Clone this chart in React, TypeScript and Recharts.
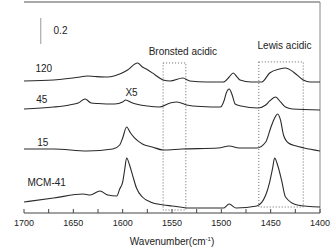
import * as React from "react";
import {LineChart, Line, XAxis, YAxis, ReferenceArea, ReferenceLine, ReferenceDot} from 'recharts';

// spectra: [wavenumber, intensity a.u.]
const mcm41 = [
    [1700, 0.085], [1670, 0.115], [1640, 0.146], [1633, 0.138], [1623, 0.169], [1615, 0.138],
    [1606, 0.131], [1603, 0.185], [1600, 0.238], [1598, 0.331], [1596, 0.423], [1593, 0.369],
    [1590, 0.292], [1586, 0.192], [1580, 0.123], [1572, 0.085], [1559, 0.062], [1550, 0.054],
    [1532, 0.038], [1498, 0.038], [1492, 0.069], [1485, 0.038], [1464, 0.054], [1455, 0.138],
    [1451, 0.238], [1448, 0.346], [1446, 0.423], [1443, 0.369], [1439, 0.254], [1435, 0.123],
    [1423, 0.062], [1400, 0.046],
];
const s15 = [
    [1700, 0.492], [1670, 0.492], [1636, 0.477], [1610, 0.492], [1603, 0.523], [1600, 0.577],
    [1596, 0.662], [1592, 0.615], [1588, 0.577], [1580, 0.531], [1570, 0.508], [1559, 0.485],
    [1540, 0.492], [1503, 0.5], [1492, 0.515], [1482, 0.5], [1464, 0.5], [1455, 0.546],
    [1450, 0.654], [1446, 0.731], [1443, 0.762], [1440, 0.715], [1437, 0.6], [1432, 0.538],
    [1424, 0.515], [1416, 0.5], [1400, 0.477],
];
const s45 = [
    [1700, 0.8], [1670, 0.815], [1654, 0.831], [1645, 0.846], [1638, 0.877], [1632, 0.846],
    [1625, 0.842], [1608, 0.838], [1600, 0.854], [1597, 0.869], [1590, 0.846], [1575, 0.823],
    [1563, 0.815], [1552, 0.846], [1545, 0.854], [1535, 0.831], [1520, 0.819], [1501, 0.815],
    [1497, 0.869], [1495, 0.923], [1492, 0.954], [1489, 0.908], [1486, 0.838], [1480, 0.823],
    [1463, 0.808], [1455, 0.831], [1451, 0.862], [1445, 0.892], [1440, 0.854], [1435, 0.815],
    [1428, 0.8], [1400, 0.792],
];
const s120 = [
    [1700, 1.015], [1670, 1.023], [1643, 1.046], [1636, 1.054], [1628, 1.05], [1615, 1.046],
    [1603, 1.069], [1595, 1.1], [1585, 1.154], [1580, 1.123], [1576, 1.108], [1567, 1.062],
    [1559, 1.023], [1552, 1.015], [1539, 1.038], [1532, 1.015], [1515, 1.008], [1498, 1.008],
    [1492, 1.046], [1488, 1.077], [1484, 1.046], [1481, 1.023], [1470, 1.008], [1459, 1.008],
    [1451, 1.077], [1441, 1.108], [1435, 1.115], [1427, 1.085], [1417, 1.023], [1410, 1.008],
    [1400, 1.008],
];

const xTicks = [1700, 1675, 1650, 1625, 1600, 1575, 1550, 1525, 1500, 1475, 1450, 1425, 1400];

// curve name labels: [text, wavenumber, intensity]
const curveLabels: [string, number, number][] = [
    ['0.2', 1663, 1.408],
    ['120', 1680, 1.115],
    ['45', 1682, 0.877],
    ['X5', 1591, 0.931],
    ['15', 1681, 0.546],
    ['MCM-41', 1677, 0.238],
    ['Bronsted acidic', 1539, 1.246],
    ['Lewis acidic', 1436, 1.285],
];

const toPts = (arr: number[][]) => arr.map(([wn, v]) => ({wn, v}));

const WnTick = ({x, y, payload}: any) => {
    const major = payload.value % 50 === 0;
    return (
        <g>
            <line x1={x} x2={x} y1={y} y2={y - 4} stroke="#444" />
            {major && <text x={x} y={y + 13} textAnchor="middle" fontSize={9} fill="#222">{payload.value}</text>}
        </g>
    );
};

const XTitle = ({viewBox}: any) => (
    <text x={viewBox.x + viewBox.width / 2} y={viewBox.y + 32} textAnchor="middle" fontSize={10} fill="#222">
        Wavenumber(cm<tspan dy={-4} fontSize={6}>-1</tspan><tspan dy={4}>)</tspan>
    </text>
);

const YTitle = ({viewBox}: any) => {
    const cy = viewBox.y + viewBox.height / 2 + 2;
    return (
        <text x={7} y={cy} transform={`rotate(-90, 7, ${cy})`} textAnchor="middle" dominantBaseline="central" fontSize={9.5} fill="#222">
            Intensity(a.u.)
        </text>
    );
};

const series = [mcm41, s15, s45, s120];

export default function App() {
    return (
        <div style={{position: 'absolute', left: 0, top: 0, fontFamily: '"Liberation Sans", Arial, sans-serif'}}>
            <LineChart width={332} height={249} margin={{top: 2, right: 12, left: 24, bottom: 0}}>
                <XAxis dataKey="wn" type="number" domain={[1400, 1700]} reversed ticks={xTicks}
                       allowDataOverflow interval={0} height={36} tickSize={0} tickMargin={0}
                       tickLine={false} tick={<WnTick />} stroke="#444" label={<XTitle />} />
                <YAxis type="number" domain={[0, 1.623]} allowDataOverflow width={0} tick={false}
                       tickLine={false} stroke="#8dc63f" strokeWidth={1.5} label={<YTitle />} />
                <ReferenceLine y={1.623} stroke="#555" ifOverflow="visible" />
                <ReferenceLine x={1400} stroke="#888" ifOverflow="visible" />
                <ReferenceArea x1={1559} x2={1536} y1={0.023} y2={1.154} fill="none" fillOpacity={0}
                               stroke="#666" strokeDasharray="1 2" />
                <ReferenceArea x1={1462} x2={1417} y1={0.046} y2={1.162} fill="none" fillOpacity={0}
                               stroke="#666" strokeDasharray="1 2" />
                <ReferenceLine segment={[{x: 1683, y: 1.3}, {x: 1683, y: 1.5}]} stroke="#999" />
                {series.map((s, i) => (
                    <Line key={i} data={toPts(s)} dataKey="v" type="monotone" stroke="#2a2a2a"
                          strokeWidth={1.1} dot={false} isAnimationActive={false} />
                ))}
                {curveLabels.map(([t, wn, v]) => (
                    <ReferenceDot key={t} x={wn} y={v} r={0} fill="none" stroke="none"
                                  label={{value: t, position: 'center', fontSize: 10, fill: '#222'}} />
                ))}
            </LineChart>
        </div>
    );
}
